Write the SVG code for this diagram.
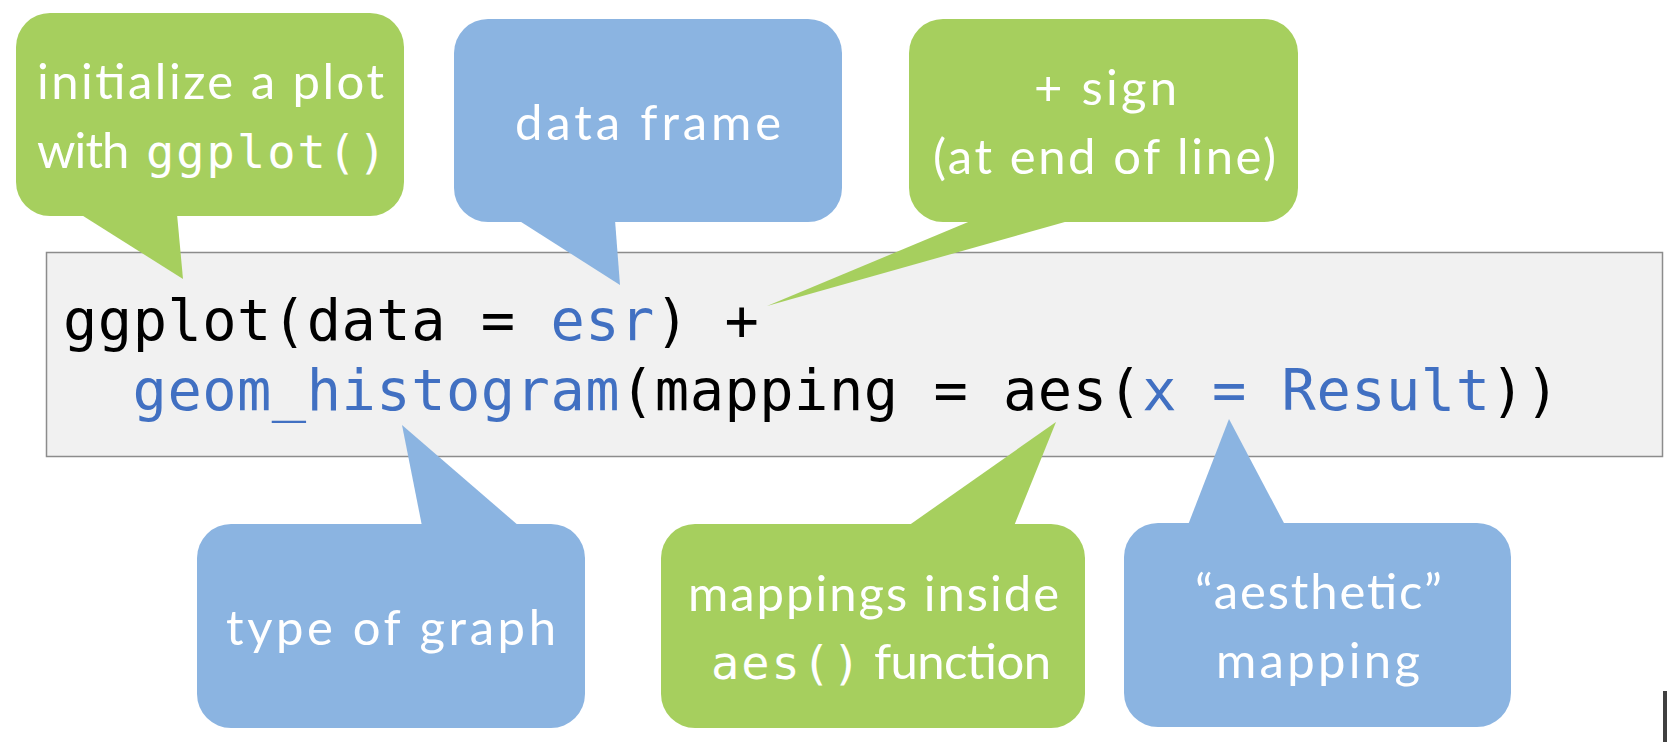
<svg xmlns="http://www.w3.org/2000/svg" width="1667" height="742" viewBox="0 0 1667 742">
  <style>
    .green { fill: #a6cf5e; }
    .blue { fill: #8bb4e1; }
    .lbl { font-family: Lato, "Open Sans", "Liberation Sans", sans-serif; font-size: 49px; fill: #ffffff; }
    .lmono { font-family: "DejaVu Sans Mono", "Liberation Mono", monospace; font-size: 47px; letter-spacing: 2px; fill: #ffffff; }
    .code { font-family: "DejaVu Sans Mono", "Liberation Mono", monospace; font-size: 57px; letter-spacing: 0.5px; fill: #000000; }
    .kw { fill: #4170c2; }
  </style>
  <rect width="1667" height="742" fill="#ffffff"/>

  <g id="code-box">
    <rect x="46.5" y="252.5" width="1616" height="204" fill="#f1f1f1" stroke="#8c8c8c" stroke-width="1.5"/>
    <text class="code" x="63" y="340">ggplot(data = <tspan class="kw">esr</tspan>) +</text>
    <text class="code" x="132.6" y="410"><tspan class="kw">geom_histogram</tspan>(mapping = aes(<tspan class="kw">x = Result</tspan>))</text>
  </g>

  <g id="connectors">
    <polygon class="green" points="80,214 177,214 183,279"/>
    <polygon class="blue" points="518,220 615,220 620,285"/>
    <polygon class="green" points="973,220 1072,220 767,306"/>
    <polygon class="blue" points="422,526 519,526 402,425"/>
    <polygon class="green" points="908,526 1014,526 1056,422"/>
    <polygon class="blue" points="1188,525 1285,525 1229,419"/>
  </g>

  <g id="node-init">
    <rect class="green" x="16" y="13" width="388" height="203" rx="34"/>
    <text class="lbl" x="37" y="99" textLength="347">initialize a plot</text>
    <text class="lbl" x="37" y="168"><tspan textLength="104">with </tspan><tspan class="lmono" x="146">ggplot()</tspan></text>
  </g>

  <g id="node-data">
    <rect class="blue" x="454" y="19" width="388" height="203" rx="34"/>
    <text class="lbl" x="515" y="140" textLength="266">data frame</text>
  </g>

  <g id="node-plus">
    <rect class="green" x="909" y="19" width="389" height="203" rx="34"/>
    <text class="lbl" x="1034" y="105" textLength="143">+ sign</text>
    <text class="lbl" x="933" y="174" textLength="343">(at end of line)</text>
  </g>

  <g id="node-geom">
    <rect class="blue" x="197" y="524" width="388" height="204" rx="34"/>
    <text class="lbl" x="226" y="645" textLength="330">type of graph</text>
  </g>

  <g id="node-aes">
    <rect class="green" x="661" y="524" width="424" height="204" rx="34"/>
    <text class="lbl" x="688" y="611" textLength="371">mappings inside</text>
    <text class="lbl" y="679"><tspan class="lmono" x="711">aes()</tspan><tspan x="862" textLength="189"> function</tspan></text>
  </g>

  <g id="node-aesthetic">
    <rect class="blue" x="1124" y="523" width="387" height="204" rx="34"/>
    <text class="lbl" x="1195" y="609" textLength="247">“aesthetic”</text>
    <text class="lbl" x="1216" y="678" textLength="204">mapping</text>
  </g>

  <rect x="1663" y="691" width="4" height="51" fill="#404040"/>
</svg>
